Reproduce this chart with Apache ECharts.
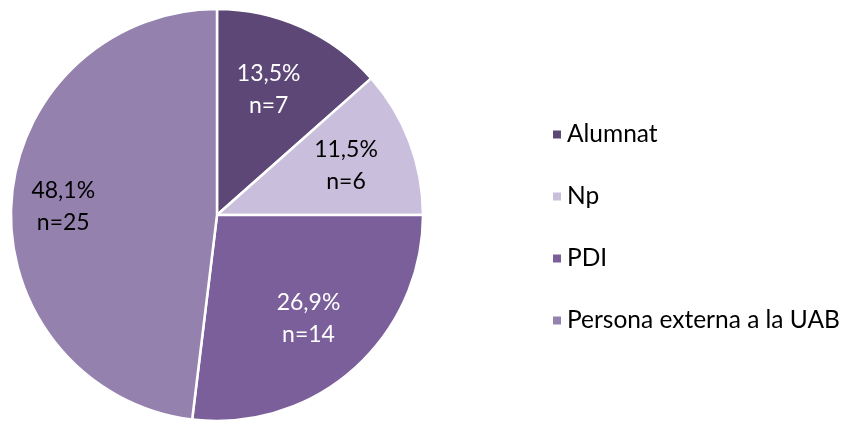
<!DOCTYPE html>
<html><head><meta charset="utf-8">
<script src="https://cdn.jsdelivr.net/npm/echarts@6/dist/echarts.min.js"></script>
<style>html,body{margin:0;padding:0;background:#fff}#c{width:841px;height:421px}</style>
</head><body><div id="c"></div>
<script>
const categories = ["Alumnat", "Np", "PDI", "Persona externa a la UAB"];
const counts = [7, 6, 14, 25];
const percentLabels = ["13,5%", "11,5%", "26,9%", "48,1%"];
const colors = ["#5c4776", "#c9bfdc", "#7a5f9b", "#9481ae"];
const labelColors = ["#ffffff", "#000000", "#ffffff", "#000000"];

const FONT = "Lato";
const chart = echarts.init(document.getElementById('c'));
const pieData = categories.map((c, i) => ({ name: c, value: counts[i], itemStyle: { color: colors[i] } }));
const labelData = categories.map((c, i) => ({
  name: c, value: counts[i],
  label: { color: labelColors[i], offset: i === 3 ? [-16, 0] : (i === 0 ? [-5, 0] : [0, 0]) }
}));
chart.setOption({
  animation: false,
  legend: {
    orient: 'vertical', left: 546, top: 117,
    itemWidth: 10, itemHeight: 10, itemGap: 37,
    icon: 'rect',
    data: categories,
    textStyle: { fontFamily: FONT, fontSize: 24.5, color: '#000', lineHeight: 24, padding: [0, 0, 0, 0] }
  },
  series: [{
    type: 'pie', center: [217, 215], radius: [0, 206],
    startAngle: 90, clockwise: true,
    data: pieData,
    itemStyle: { borderColor: '#fff', borderWidth: 2.5 },
    label: { show: false }, labelLine: { show: false },
    silent: true
  }, {
    type: 'pie', center: [217, 215], radius: [0, 270],
    startAngle: 90, clockwise: true,
    data: labelData,
    itemStyle: { color: 'rgba(0,0,0,0)' },
    label: {
      show: true, position: 'inside',
      fontFamily: FONT, fontSize: 23, lineHeight: 32,
      formatter: p => percentLabels[p.dataIndex] + '\nn=' + p.value
    },
    labelLine: { show: false },
    silent: true, legendHoverLink: false
  }]
});
</script></body></html>
